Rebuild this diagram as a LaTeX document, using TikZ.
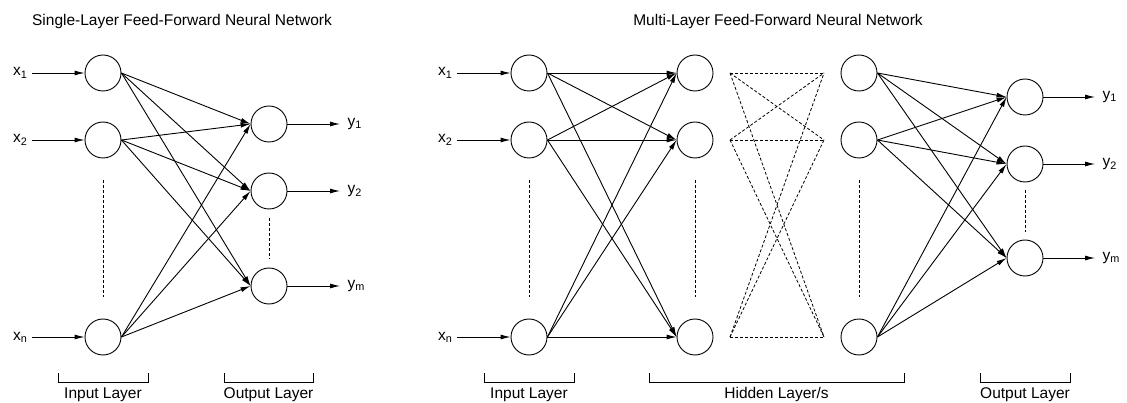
\documentclass[tikz,border=0pt]{standalone}
\usepackage{fontspec}
\setmainfont{Liberation Sans}
\usepackage{tikz}
\usetikzlibrary{positioning, calc, arrows.meta}
\tikzstyle{Arrow} = [
%arrow style for the weighted links:
line width=0.9pt,
-{Latex[length=10pt, width=5pt]}
]
\tikzstyle{Dots} = [line width=0.8pt, dash pattern=on 3pt off 2pt]

\begin{document}
\begin{tikzpicture}[
				x=1pt, y=-1pt,
				font=\fontsize{15.5}{18}\selectfont,
				neuron/.style = {circle, draw, line width=0.9pt, minimum size=36pt, inner sep=0pt},
				bracket/.style = {line width=0.9pt},
			]
			\useasboundingbox (0,0) rectangle (1127,403);

			%single layer network
			\node(TitleA) at (182,21){Single-Layer Feed-Forward Neural Network};
			\node[neuron](in1) at (103,73){};
			\node[neuron](in2) at (103,140){};
			\node[neuron](inn) at (103,337){};
			\node[neuron](o1) at (269,124){};
			\node[neuron](o2) at (269,191){};
			\node[neuron](om) at (269,286){};

			\coordinate(s1) at (32,73);
			\coordinate(s2) at (32,140);
			\coordinate(sn) at (32,337);
			\node[left=1pt of s1](lx1){x\textsubscript{1}};
			\node[left=1pt of s2](lx2){x\textsubscript{2}};
			\node[left=1pt of sn](lxn){x\textsubscript{n}};
			\draw[Arrow](s1)--(in1);
			\draw[Arrow](s2)--(in2);
			\draw[Arrow](sn)--(inn);

			\coordinate(e1) at (340,124);
			\coordinate(e2) at (340,191);
			\coordinate(em) at (340,286);
			\node[right=4pt of e1](ly1){y\textsubscript{1}};
			\node[right=4pt of e2](ly2){y\textsubscript{2}};
			\node[right=4pt of em](lym){y\textsubscript{m}};
			\draw[Arrow](o1)--(e1);
			\draw[Arrow](o2)--(e2);
			\draw[Arrow](om)--(em);

			\foreach \a in {in1, in2, inn}
				\foreach \b in {o1, o2, om}
					\draw[Arrow](\a.east)--(\b.west);

			\draw[Dots](103,180)--(103,297);
			\draw[Dots](269,218)--(269,259);

			\draw[bracket](58,373)--(58,382)--(148,382)--(148,373);
			\node[below=2pt of {$(58,382)!0.5!(148,382)$}](InA){Input Layer};
			\draw[bracket](224,373)--(224,382)--(313,382)--(313,373);
			\node[below=2pt of {$(224,382)!0.5!(313,382)$}](OutA){Output Layer};

			%multi layer network
			\node(TitleB) at (778,21){Multi-Layer Feed-Forward Neural Network};
			\node[neuron](mi1) at (529,73){};
			\node[neuron](mi2) at (529,140){};
			\node[neuron](min) at (529,337){};
			\node[neuron](h1) at (695,73){};
			\node[neuron](h2) at (695,140){};
			\node[neuron](hn) at (695,337){};
			\node[neuron](k1) at (859,73){};
			\node[neuron](k2) at (859,140){};
			\node[neuron](kn) at (859,337){};
			\node[neuron](r1) at (1025,97){};
			\node[neuron](r2) at (1025,164){};
			\node[neuron](rm) at (1025,258){};

			\coordinate(t1) at (457,73);
			\coordinate(t2) at (457,140);
			\coordinate(tn) at (457,337);
			\node[left=1pt of t1](mx1){x\textsubscript{1}};
			\node[left=1pt of t2](mx2){x\textsubscript{2}};
			\node[left=1pt of tn](mxn){x\textsubscript{n}};
			\draw[Arrow](t1)--(mi1);
			\draw[Arrow](t2)--(mi2);
			\draw[Arrow](tn)--(min);

			\coordinate(f1) at (1095,97);
			\coordinate(f2) at (1095,164);
			\coordinate(fm) at (1095,258);
			\node[right=4pt of f1](my1){y\textsubscript{1}};
			\node[right=4pt of f2](my2){y\textsubscript{2}};
			\node[right=4pt of fm](mym){y\textsubscript{m}};
			\draw[Arrow](r1)--(f1);
			\draw[Arrow](r2)--(f2);
			\draw[Arrow](rm)--(fm);

			\foreach \a in {mi1, mi2, min}
				\foreach \b in {h1, h2, hn}
					\draw[Arrow](\a.east)--(\b.west);
			\foreach \a in {k1, k2, kn}
				\foreach \b in {r1, r2, rm}
					\draw[Arrow](\a.east)--(\b.west);

			%hidden layers in between
			\foreach \i/\y in {1/73, 2/140, n/337}{
				\coordinate(dl\i) at (730,\y);
				\coordinate(dr\i) at (824,\y);
			}
			\foreach \a in {1, 2, n}
				\foreach \b in {1, 2, n}
					\draw[Dots](dl\a)--(dr\b);

			\draw[Dots](529,180)--(529,297);
			\draw[Dots](695,180)--(695,297);
			\draw[Dots](859,180)--(859,297);
			\draw[Dots](1025,190)--(1025,232);

			\draw[bracket](484,373)--(484,382)--(574,382)--(574,373);
			\node[below=2pt of {$(484,382)!0.5!(574,382)$}](InB){Input Layer};
			\draw[bracket](649,373)--(649,382)--(904,382)--(904,373);
			\node[below=2pt of {$(649,382)!0.5!(904,382)$}](HidB){Hidden Layer/s};
			\draw[bracket](980,373)--(980,382)--(1070,382)--(1070,373);
			\node[below=2pt of {$(980,382)!0.5!(1070,382)$}](OutB){Output Layer};

		\end{tikzpicture}
\end{document}
